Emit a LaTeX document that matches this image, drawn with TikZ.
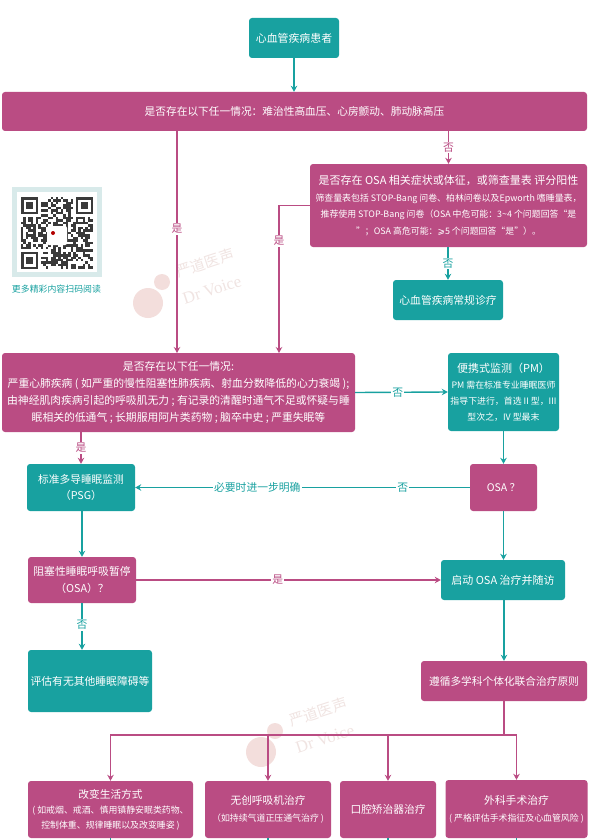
\documentclass[tikz,border=0pt]{standalone}
\usepackage{fontspec}
\setmainfont{Noto Sans CJK SC}
\newfontfamily\wmlatin{Liberation Serif}
\newfontfamily\symfont{DejaVu Sans}
\usetikzlibrary{arrows.meta, positioning, calc}
\definecolor{magbox}{RGB}{186, 76, 131}
\definecolor{tealbox}{RGB}{24, 161, 160}
\definecolor{qrframe}{RGB}{216, 234, 234}
\definecolor{qrdark}{RGB}{58, 58, 58}
\definecolor{wmpink}{RGB}{243, 222, 220}
\definecolor{wmtext}{RGB}{240, 228, 226}
\newcommand{\noteline}{\fontsize{8.9}{16.5}\selectfont}
\tikzset{
  magnode/.style={fill=magbox, text=white, rounded corners=3pt, align=center, inner sep=0pt},
  tealnode/.style={fill=tealbox, text=white, rounded corners=3pt, align=center, inner sep=0pt},
  magline/.style={draw=magbox, line width=1.4pt},
  tealline/.style={draw=tealbox, line width=1.4pt},
  magarrow/.style={magline, -{Stealth[length=6pt,width=6.5pt]}},
  tealarrow/.style={tealline, -{Stealth[length=6pt,width=6.5pt]}},
  maglabel/.style={fill=white, text=magbox, inner sep=1pt, font=\fontsize{10.8}{12}\selectfont},
  teallabel/.style={fill=white, text=tealbox, inner sep=1pt, font=\fontsize{10.8}{12}\selectfont},
}
\begin{document}
\begin{tikzpicture}[x=1pt, y=-1pt]
  \useasboundingbox (0,0) rectangle (609,840);

  % Watermarks
  \foreach \wx/\wy in {148/303, 261/752}{
    \fill[wmpink] (\wx,\wy) circle (15);
    \fill[wmpink] (\wx+14,\wy-21) circle (8);
    \node[rotate=18, text=wmtext, inner sep=0pt, font=\fontsize{15}{17}\selectfont] at (\wx+57,\wy-40) {严道医声};
    \node[rotate=18, text=wmtext, inner sep=0pt, font=\fontsize{17}{19}\selectfont\wmlatin] at (\wx+64,\wy-13) {Dr Voice};
  }

  % QR code
  \fill[qrframe] (12,187) rectangle (102,277);
  \fill[white] (17,192) rectangle (97,272);
  \pgfmathsetseed{7}
  \foreach \qi in {0,...,28}{
    \foreach \qj in {0,...,28}{
      \pgfmathtruncatemacro\qon{(rnd<0.52 && !(\qi<8 && \qj<8) && !(\qi>20 && \qj<8) && !(\qi<8 && \qj>20)) ? 1 : 0}
      \ifnum\qon=1
        \fill[qrdark] (21+\qi*2.48,197+\qj*2.48) rectangle ++(2.48,2.48);
      \fi
    }
  }
  \foreach \qx/\qy in {21/197, 75.6/197, 21/251.6}{
    \fill[qrdark] (\qx,\qy) rectangle ++(17.4,17.4);
    \fill[white] (\qx+2.5,\qy+2.5) rectangle ++(12.4,12.4);
    \fill[qrdark] (\qx+5,\qy+5) rectangle ++(7.4,7.4);
  }
  \fill[white, rounded corners=2pt] (47,226) rectangle (67,245);
  \fill[red!70!black] (53,233) circle (2);
  \node[text=tealbox, font=\fontsize{8.9}{10}\selectfont] (qrcap) at (56.5,289) {更多精彩内容扫码阅读};

  % Boxes
  \node[tealnode, minimum width=90pt, minimum height=40pt, font=\fontsize{10.9}{14}\selectfont] (patient) at (294,38) {心血管疾病患者};
  \node[magnode, minimum width=585pt, minimum height=39pt, font=\fontsize{10.7}{14}\selectfont] (firstq) at (294.5,111.5) {是否存在以下任一情况：难治性高血压、心房颤动、肺动脉高压};
  \node[magnode, minimum width=277pt, minimum height=83pt, font=\fontsize{11}{16.5}\selectfont] (osasign) at (448.5,205.5) {
    是否存在 OSA 相关症状或体征，或筛查量表 评分阳性\\
    \noteline 筛查量表包括 STOP-Bang 问卷、柏林问卷以及Epworth 嗜睡量表，\\
    \noteline 推荐使用 STOP-Bang 问卷（OSA 中危可能：3\textasciitilde 4 个问题回答“是\\
    \noteline ”；OSA 高危可能：{\symfont ⩾}5 个问题回答“是”）。
  };
  \node[tealnode, minimum width=110pt, minimum height=40pt, font=\fontsize{10.8}{14}\selectfont] (routine) at (448,300) {心血管疾病常规诊疗};
  \node[magnode, minimum width=353pt, minimum height=79pt, font=\fontsize{10.8}{17}\selectfont] (severeq) at (178.5,392.5) {
    是否存在以下任一情况:\\
    严重心肺疾病 ( 如严重的慢性阻塞性肺疾病、射血分数降低的心力衰竭 );\\
    由神经肌肉疾病引起的呼吸肌无力 ; 有记录的清醒时通气不足或怀疑与睡\\
    眠相关的低通气 ; 长期服用阿片类药物 ; 脑卒中史 ; 严重失眠等
  };
  \node[tealnode, minimum width=111pt, minimum height=78pt, font=\fontsize{11}{16}\selectfont] (pm) at (503.5,392) {
    便携式监测（PM）\\
    \noteline PM 需在标准专业睡眠医师\\
    \noteline 指导下进行，首选 II 型，III\\
    \noteline 型次之，IV 型最末
  };
  \node[tealnode, minimum width=108pt, minimum height=47pt, font=\fontsize{10.7}{16}\selectfont] (psg) at (81,487.5) {标准多导睡眠监测\\（PSG）};
  \node[magnode, minimum width=67pt, minimum height=47pt, font=\fontsize{10.5}{14}\selectfont] (osaq) at (503.5,487.5) {OSA ？};
  \node[magnode, minimum width=108pt, minimum height=46pt, font=\fontsize{10.8}{17}\selectfont] (apnea) at (82,580) {阻塞性睡眠呼吸暂停\\（OSA）？};
  \node[tealnode, minimum width=124pt, minimum height=40pt, font=\fontsize{11}{14}\selectfont] (startosa) at (503,580) {启动 OSA 治疗并随访};
  \node[tealnode, minimum width=124pt, minimum height=62pt, font=\fontsize{10.8}{14}\selectfont] (otherq) at (90,681) {评估有无其他睡眠障碍等};
  \node[magnode, minimum width=166pt, minimum height=40pt, font=\fontsize{10.7}{14}\selectfont] (multi) at (504,681) {遵循多学科个体化联合治疗原则};
  \node[magnode, minimum width=165pt, minimum height=57pt, font=\fontsize{10.7}{15}\selectfont] (life) at (110.5,809.5) {
    改变生活方式\\
    \noteline ( 如戒烟、戒酒、慎用镇静安眠类药物、\\
    \noteline 控制体重、规律睡眠以及改变睡姿 )
  };
  \node[magnode, minimum width=126pt, minimum height=57pt, font=\fontsize{10.7}{17}\selectfont] (cpap) at (268,809.5) {
    无创呼吸机治疗\\
    \noteline （如持续气道正压通气治疗 )
  };
  \node[magnode, minimum width=96pt, minimum height=57pt, font=\fontsize{10.7}{14}\selectfont] (oral) at (388,809.5) {口腔矫治器治疗};
  \node[magnode, minimum width=142pt, minimum height=58pt, font=\fontsize{10.8}{17}\selectfont] (surgery) at (516.5,809) {
    外科手术治疗\\
    \noteline ( 严格评估手术指征及心血管风险 )
  };

  % Turning points
  \coordinate (yesdown) at (177,353);
  \coordinate (yesleft) at (279,353);
  \coordinate (bus) at (300,735);
  \coordinate (pagecut) at (300,842);

  % Connectors
  \draw[tealarrow] (patient) -- (patient |- firstq.north);
  \draw[magarrow] (firstq.south -| osasign.north) -- node[maglabel] (no1) {否} (osasign.north);
  \draw[magarrow] (firstq.south -| yesdown) -- node[maglabel, pos=.44] (yes1) {是} (yesdown);
  \draw[magarrow] (osasign.west) -| (yesleft) node[maglabel, pos=.62] (yes2) {是};
  \draw[tealarrow] (osasign.south -| routine.north) -- node[teallabel] (no2) {否} (routine.north);
  \draw[tealarrow] (severeq.east) -- node[teallabel, pos=.46] (no3) {否} (pm.west);
  \draw[magarrow] (severeq.south -| psg.north) -- node[maglabel] (yes3) {是} (psg.north);
  \draw[tealarrow] (pm.south) -- (osaq.north);
  \draw[tealarrow] (osaq.west) -- node[teallabel, pos=.2] (no4) {否} node[teallabel, pos=.635] (needpsg) {必要时进一步明确} (psg.east);
  \draw[tealarrow] (osaq.south) -- (osaq.south |- startosa.north);
  \draw[tealarrow] (psg.south -| apnea.north) -- (apnea.north);
  \draw[magarrow] (apnea.east) -- node[maglabel, pos=.465] (yes4) {是} (startosa.west);
  \draw[tealarrow] (apnea.south) -- node[teallabel, pos=.47] (no5) {否} (apnea.south |- otherq.north);
  \draw[tealarrow] (startosa.south -| multi.north) -- (multi.north);
  \draw[magline] (multi.south) -- (multi.south |- bus);
  \draw[magline, line cap=rect] (bus -| life.north) -- (bus -| surgery.north);
  \foreach \tn in {life, cpap, oral, surgery}{
    \draw[magarrow] (bus -| \tn.north) -- (\tn.north);
    \draw[tealline] (\tn.south) -- (\tn.south |- pagecut);
  }
\end{tikzpicture}
\end{document}
